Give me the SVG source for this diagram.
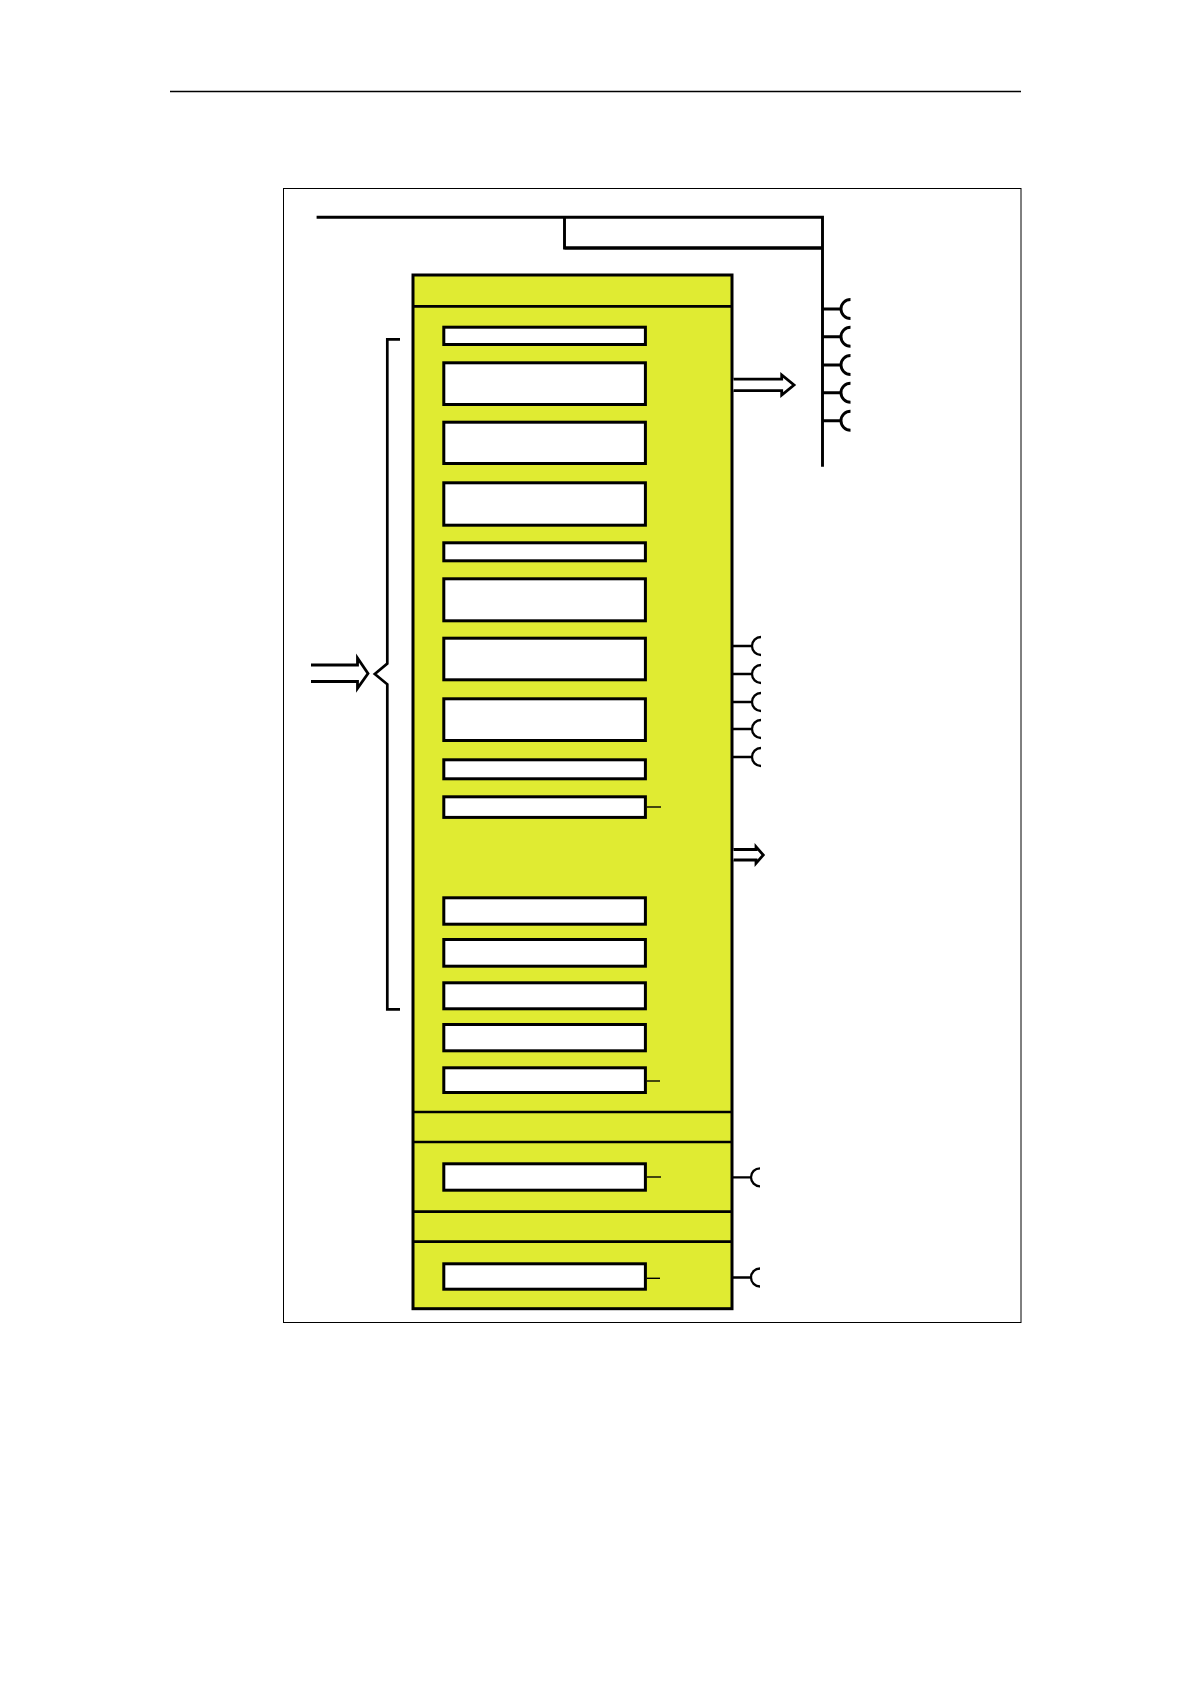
<svg xmlns="http://www.w3.org/2000/svg" width="1190" height="1684" viewBox="0 0 1190 1684">
  <style>
    .ln { fill: none; stroke: #000; stroke-linecap: butt; stroke-linejoin: miter; }
    .main { fill: #E0EB32; stroke: #000; stroke-width: 3; }
    .cell { fill: #FFFFFF; stroke: #000; stroke-width: 3; }
    .div { fill: none; stroke: #000; stroke-width: 2.7; }
    .tick { fill: none; stroke: #000; stroke-width: 1.4; }
    .stub { fill: none; stroke: #000; stroke-width: 2.3; }
    .bus { fill: none; stroke: #000; stroke-width: 2.9; }
    .arrow { fill: #FFFFFF; stroke: #000; stroke-width: 2.8; stroke-linejoin: miter; }
  </style>
  <rect width="1190" height="1684" fill="#FFFFFF"/>
  <g id="page-header">
    <line class="ln" x1="170" y1="91.6" x2="1021" y2="91.6" stroke-width="1.5"/>
  </g>
  <g id="frame">
    <rect x="283.5" y="188.5" width="737.5" height="1134" fill="none" stroke="#000" stroke-width="1"/>
  </g>
  <g id="main-unit">
    <rect class="main" x="413" y="275" width="319" height="1033.7"/>
    <line class="div" x1="413" y1="306.3" x2="732" y2="306.3"/>
    <line class="div" x1="413" y1="1112" x2="732" y2="1112"/>
    <line class="div" x1="413" y1="1142" x2="732" y2="1142"/>
    <line class="div" x1="413" y1="1211.7" x2="732" y2="1211.7"/>
    <line class="div" x1="413" y1="1241.7" x2="732" y2="1241.7"/>
  </g>
  <g id="cell-1"><rect class="cell" x="443.8" y="327.2" width="201.6" height="17.3"/></g>
  <g id="cell-2"><rect class="cell" x="443.8" y="362.8" width="201.6" height="41.7"/></g>
  <g id="cell-3"><rect class="cell" x="443.8" y="422.2" width="201.6" height="41.3"/></g>
  <g id="cell-4"><rect class="cell" x="443.8" y="482.8" width="201.6" height="42.4"/></g>
  <g id="cell-5"><rect class="cell" x="443.8" y="542.8" width="201.6" height="18"/></g>
  <g id="cell-6"><rect class="cell" x="443.8" y="578.8" width="201.6" height="42"/></g>
  <g id="cell-7"><rect class="cell" x="443.8" y="638.2" width="201.6" height="41.6"/></g>
  <g id="cell-8"><rect class="cell" x="443.8" y="698.8" width="201.6" height="41.7"/></g>
  <g id="cell-9"><rect class="cell" x="443.8" y="759.8" width="201.6" height="19"/></g>
  <g id="cell-10"><rect class="cell" x="443.8" y="796.8" width="201.6" height="20.6"/></g>
  <g id="cell-11"><rect class="cell" x="443.8" y="897.8" width="201.6" height="26.4"/></g>
  <g id="cell-12"><rect class="cell" x="443.8" y="939.5" width="201.6" height="26.7"/></g>
  <g id="cell-13"><rect class="cell" x="443.8" y="982.8" width="201.6" height="26"/></g>
  <g id="cell-14"><rect class="cell" x="443.8" y="1024.5" width="201.6" height="26.3"/></g>
  <g id="cell-15"><rect class="cell" x="443.8" y="1067.8" width="201.6" height="24.7"/></g>
  <g id="cell-16"><rect class="cell" x="443.8" y="1163.8" width="201.6" height="26.4"/></g>
  <g id="cell-17"><rect class="cell" x="443.8" y="1263.8" width="201.6" height="25.4"/></g>
  <g id="brace">
    <path class="ln" stroke-width="2.7" d="M 400 339.3 H 387.3 V 663.5 L 374.8 674 L 387.3 684.3 V 1009.3 H 400"/>
  </g>
  <g id="connectors">
    <path class="bus" stroke-width="2.6" d="M 316.6 217.3 H 822.5 V 466.7"/>
    <path class="bus" stroke-width="2.6" d="M 564.5 217.3 V 248 H 822.5"/>
    <line class="bus" stroke-width="3.1" x1="564.5" y1="248" x2="822.5" y2="248"/>
    <path class="bus" d="M 822.5 309 H 841 M 850.5 299.5 A 9.5 9.5 0 0 0 850.5 318.5"/>
    <path class="bus" d="M 822.5 336.7 H 841 M 850.5 327.2 A 9.5 9.5 0 0 0 850.5 346.2"/>
    <path class="bus" d="M 822.5 365 H 841 M 850.5 355.5 A 9.5 9.5 0 0 0 850.5 374.5"/>
    <path class="bus" d="M 822.5 392.7 H 841 M 850.5 383.2 A 9.5 9.5 0 0 0 850.5 402.2"/>
    <path class="bus" d="M 822.5 420.7 H 841 M 850.5 411.2 A 9.5 9.5 0 0 0 850.5 430.2"/>
    <path class="stub" d="M 733 646 H 752 M 761 637 A 9 9 0 0 0 761 655"/>
    <path class="stub" d="M 733 674 H 752 M 761 665 A 9 9 0 0 0 761 683"/>
    <path class="stub" d="M 733 702 H 752 M 761 693 A 9 9 0 0 0 761 711"/>
    <path class="stub" d="M 733 729 H 752 M 761 720 A 9 9 0 0 0 761 738"/>
    <path class="stub" d="M 733 757 H 752 M 761 748 A 9 9 0 0 0 761 766"/>
    <path class="stub" d="M 733 1177.3 H 751 M 760 1168.3 A 9 9 0 0 0 760 1186.3"/>
    <path class="stub" d="M 733 1277.5 H 751 M 760 1268.5 A 9 9 0 0 0 760 1286.5"/>
    <line class="tick" x1="647" y1="807" x2="661" y2="807"/>
    <line class="tick" stroke-width="2" x1="647" y1="1081" x2="660" y2="1081"/>
    <line class="tick" stroke-width="2" x1="647" y1="1177" x2="661" y2="1177"/>
    <line class="tick" stroke-width="1.6" x1="647" y1="1278.3" x2="660" y2="1278.3"/>
    <path class="arrow" d="M 733.5 379.2 H 781.7 V 375 L 794 385 L 781.7 395 V 390.6 H 733.5"/>
    <path class="arrow" d="M 733.5 849.5 H 756 V 846.7 L 763.3 855 L 756 863.3 V 860 H 733.5"/>
    <path class="arrow" fill="none" d="M 311 665 H 357.5 V 658 L 368 673.5 L 357.5 688.3 V 681.5 H 311"/>
  </g>
</svg>
